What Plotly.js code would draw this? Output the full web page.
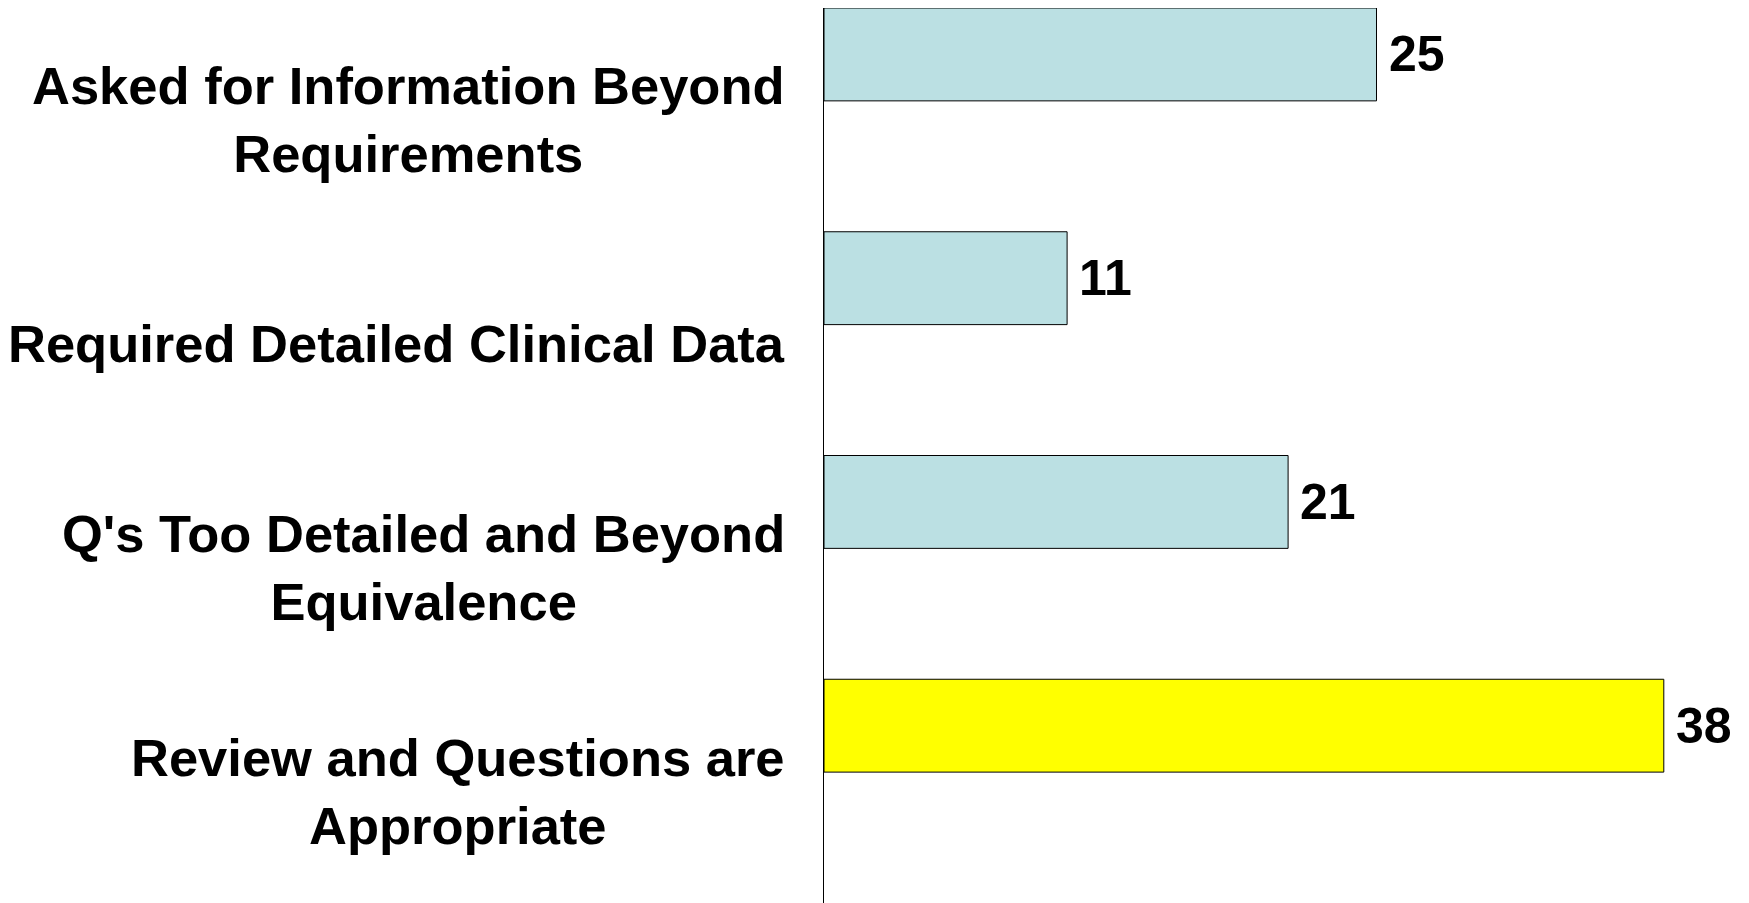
<!DOCTYPE html>
<html>
<head>
<meta charset="utf-8">
<script src="https://cdn.plot.ly/plotly-3.0.1.min.js"></script>
<style>html,body{margin:0;padding:0;background:#fff;}#chart{width:1749px;height:903px;}</style>
</head>
<body>
<div id="chart"></div>
<script>
const categories = [
  "Asked for Information Beyond<br>Requirements",
  "Required Detailed Clinical Data",
  "Q's Too Detailed and Beyond<br>Equivalence",
  "Review and Questions are<br>Appropriate"
];
const values = [25, 11, 21, 38];
const barColors = ["#BBE0E3", "#BBE0E3", "#BBE0E3", "#FFFF00"];

const BAR_OFFSET = -0.5, BAR_WIDTH = 0.415;
const fontFam = "Liberation Sans, Arial, Helvetica, sans-serif";

const trace = {
  type: "bar",
  orientation: "h",
  x: values,
  y: categories,
  offset: BAR_OFFSET,
  width: BAR_WIDTH,
  marker: { color: barColors, line: { color: "#000000", width: 1 } },
  hoverinfo: "none"
};

const annotations = [];
categories.forEach((c, i) => {
  annotations.push({
    xref: "paper", yref: "y", x: 0, y: i, xanchor: "right", yanchor: "middle",
    xshift: -37, align: "center", showarrow: false, text: c,
    font: { family: fontFam, size: 52.5, color: "#000", weight: "bold" }
  });
  annotations.push({
    xref: "x", yref: "y", x: values[i], y: i + BAR_OFFSET + BAR_WIDTH / 2,
    xanchor: "left", yanchor: "middle", xshift: 10, showarrow: false,
    text: String(values[i]),
    font: { family: fontFam, size: 50, color: "#000", weight: "bold" }
  });
});

const layout = {
  width: 1749, height: 903,
  margin: { l: 824, r: 41, t: 8, b: 0, pad: 0 },
  paper_bgcolor: "#fff", plot_bgcolor: "#fff",
  showlegend: false,
  xaxis: { range: [0, 40], showgrid: false, zeroline: false, showticklabels: false, ticks: "", showline: false, fixedrange: true },
  yaxis: { type: "category", range: [3.5, -0.5], showgrid: false, zeroline: false, showticklabels: false, ticks: "", showline: true, linecolor: "#000", linewidth: 1, fixedrange: true },
  annotations: annotations
};

Plotly.newPlot("chart", [trace], layout, { displayModeBar: false, staticPlot: true });
</script>
</body>
</html>
